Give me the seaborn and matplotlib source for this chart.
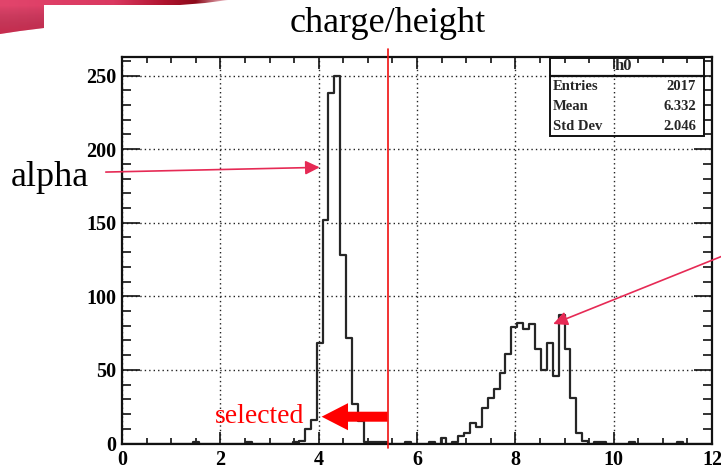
import numpy as np
import pandas as pd
import matplotlib
matplotlib.use("Agg")
import matplotlib.pyplot as plt
import seaborn as sns
from matplotlib.colors import LinearSegmentedColormap
from matplotlib.patches import Polygon, Rectangle
from matplotlib.lines import Line2D
from matplotlib.ticker import MultipleLocator

# ---- histogram h0: 100 bins from 0 to 12 ----
x_low, x_high, n_bins = 0.0, 12.0, 100
counts = [
    0, 0, 0, 0, 0, 0, 0, 0, 0, 0,
    0, 0, 1, 0, 0, 0, 0, 0, 0, 0,
    0, 1, 0, 0, 0, 0, 0, 0, 0, 1,
    2, 10, 16, 68, 152, 238, 250, 128, 72, 27,
    15, 1, 1, 1, 1, 0, 0, 0, 1, 0,
    0, 0, 1, 0, 4, 0, 1, 5, 7, 14,
    11, 24, 31, 37, 48, 61, 79, 82, 78, 81,
    64, 50, 68, 46, 87, 64, 31, 7, 2, 0,
    1, 1, 0, 0, 0, 0, 1, 0, 0, 0,
    0, 0, 0, 0, 1, 0, 0, 0, 0, 0,
]
stat_names = ["Entries", "Mean", "Std Dev"]
stat_values = ["2017", "6.332", "2.046"]
hist_name = "h0"
x_ticks = [0, 2, 4, 6, 8, 10, 12]
y_ticks = [0, 50, 100, 150, 200, 250]

# selection cut and annotation anchors (data units)
cut_value = 5.4
selected_tip = (4.06, 18.2)
alpha_tip = (4.02, 187.6)
alpha_tail = (-0.33, 184.4)
peak_tip = (8.77, 81.2)

bin_width = (x_high - x_low) / n_bins
centers = x_low + bin_width * (np.arange(n_bins) + 0.5)
df = pd.DataFrame({"charge_height": centers, "entries": counts})

sns.set_theme(style="ticks")
plt.rcParams["font.family"] = ["Liberation Serif", "DejaVu Serif"]

W, H = 721, 471
fig = plt.figure(figsize=(W / 100, H / 100), dpi=100)
fig.patch.set_facecolor("white")


def fx(px):
    return px / W


def fy(py):
    return 1 - py / H


# slide decoration in the upper-left corner
bg = fig.add_axes([0, 0, 1, 1], zorder=0)
bg.set_xlim(0, W)
bg.set_ylim(H, 0)
bg.axis("off")
swoosh_cmap = LinearSegmentedColormap.from_list(
    "swoosh", [(0.0, "#e2456c"), (0.5, "#da3860"), (0.72, "#b0142f"),
               (0.86, "#8c0a1a"), (1.0, "#f0c0c8")])
grad = np.linspace(0, 1, 256)[None, :]
im = bg.imshow(grad, extent=[0, 228, 35, 0], cmap=swoosh_cmap, aspect="auto")
swoosh = Polygon([(0, 0), (228, 0), (205, 3), (180, 5), (44, 5),
                  (44, 28), (20, 31), (0, 34)], closed=True,
                 transform=bg.transData, fc="none", ec="none")
bg.add_patch(swoosh)
im.set_clip_path(swoosh)
shade = LinearSegmentedColormap.from_list(
    "shade", [(0, 0, 0, 0), (0.6, 0.0, 0.1, 0.35)])
im2 = bg.imshow(np.linspace(0, 1, 64)[:, None], extent=[0, 44, 34, 5],
                cmap=shade, aspect="auto")
im2.set_clip_path(swoosh)

# main frame
ax = fig.add_axes([fx(122), fy(443.5), 590 / W, 386.4 / H], zorder=1)
ax.set_facecolor("white")
sns.histplot(data=df, x="charge_height", weights="entries",
             binwidth=bin_width, binrange=(x_low, x_high),
             element="step", fill=False, color="#262626", linewidth=1.6,
             ax=ax, zorder=3)
ax.set_xlim(x_low, x_high)
ax.set_ylim(0, 262.5)
ax.set_xlabel("")
ax.set_ylabel("")

ax.set_xticks(x_ticks)
ax.set_yticks(y_ticks)
ax.xaxis.set_minor_locator(MultipleLocator(0.5))
ax.yaxis.set_minor_locator(MultipleLocator(10))
ax.grid(True, which="major", color="#222222", linestyle=(0, (1, 2.2)),
        linewidth=1.0)
ax.set_axisbelow(True)
for s in ax.spines.values():
    s.set_linewidth(1.6)
    s.set_color("#111111")
    s.set_zorder(4)
ax.tick_params(which="both", direction="in", top=True, right=True,
               width=1.2, color="#111111")
ax.tick_params(axis="x", which="major", length=8.3, pad=5.0)
ax.tick_params(axis="x", which="minor", length=4.2)
ax.tick_params(axis="y", which="major", length=12.7, pad=4.0)
ax.tick_params(axis="y", which="minor", length=6.4)
for lab in ax.get_xticklabels() + ax.get_yticklabels():
    lab.set_fontweight("bold")
    lab.set_fontsize(14.5)
    lab.set_color("black")

# selection cut
ax.axvline(cut_value, ymin=-0.0116, ymax=1.021, color="#f01010",
           linewidth=1.2, clip_on=False, zorder=5)
ax.annotate("", xy=selected_tip, xytext=(cut_value, selected_tip[1]),
            arrowprops=dict(arrowstyle="simple,head_length=19,head_width=19.5,tail_width=7.2",
                            mutation_scale=1, fc="#ff0000", ec="none",
                            shrinkA=0, shrinkB=0), zorder=6)
ax.text(3.70, selected_tip[1], "selected", color="#ff0000", fontsize=20,
        ha="right", va="center", zorder=6)

pink = "#e62a55"
ax.annotate("", xy=alpha_tip, xytext=alpha_tail,
            arrowprops=dict(arrowstyle="-|>,head_length=0.86,head_width=0.42",
                            mutation_scale=10, color=pink, lw=1.2,
                            shrinkA=0, shrinkB=0),
            annotation_clip=False, zorder=6)
ax.annotate("", xy=peak_tip, xytext=(740, H - 249), textcoords="figure pixels",
            arrowprops=dict(arrowstyle="-|>,head_length=0.86,head_width=0.42",
                            mutation_scale=10, color=pink, lw=1.2,
                            shrinkA=0, shrinkB=0),
            annotation_clip=False, zorder=6)

# slide labels
fig.text(fx(388), fy(23), "charge/height", fontsize=26, ha="center",
         va="center", color="black")
fig.text(fx(11), fy(178), "alpha", fontsize=26, ha="left", va="center",
         color="black")

# statistics box
box_l, box_r, box_t, box_b, box_h = 550, 704, 58, 136, 75.5
fig.add_artist(Rectangle((fx(box_l), fy(box_b)), (box_r - box_l) / W,
                         (box_b - box_t) / H, transform=fig.transFigure,
                         fill=False, ec="#111111", lw=1.4, zorder=5))
fig.add_artist(Line2D([fx(box_l), fx(box_r)], [fy(box_h), fy(box_h)],
                      transform=fig.transFigure, color="#111111", lw=1.6,
                      zorder=5))
fig.text(fx(623), fy(66.5), hist_name, fontsize=12, fontweight="bold",
         ha="center", va="center", zorder=6)
for k, (name, val) in enumerate(zip(stat_names, stat_values)):
    yy = fy(86 + 20 * k)
    fig.text(fx(553), yy, name, fontsize=10.5, fontweight="bold",
             ha="left", va="center", zorder=6)
    fig.text(fx(696), yy, val, fontsize=10.5, fontweight="bold",
             ha="right", va="center", zorder=6)

fig.savefig("out.png", dpi=100, facecolor="white")
